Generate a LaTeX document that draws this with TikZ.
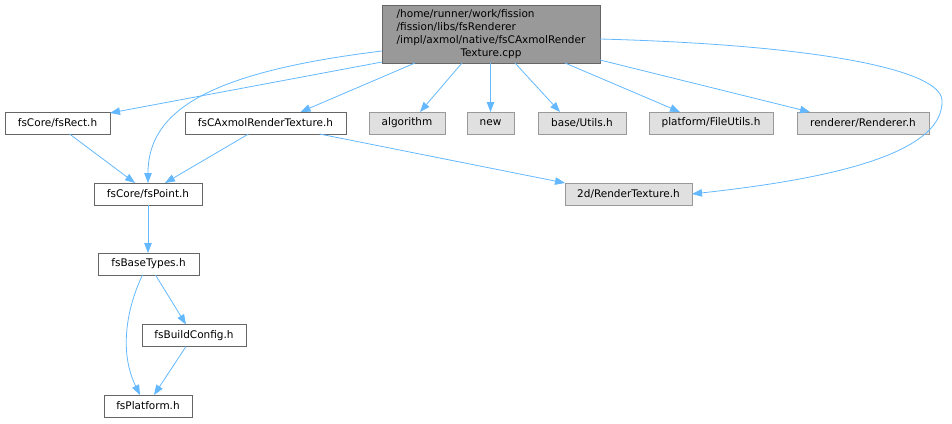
\documentclass[tikz,border=0pt]{standalone}
\usepackage{fontspec}
\setmainfont{DejaVu Sans}
\usetikzlibrary{arrows.meta,calc}
\definecolor{edgec}{HTML}{63B8FF}
\definecolor{mainfill}{HTML}{999999}
\definecolor{mainborder}{HTML}{666666}
\definecolor{extfill}{HTML}{E0E0E0}
\definecolor{extborder}{HTML}{999999}
\begin{document}
\begin{tikzpicture}[x=1pt,y=-1pt,
  every node/.style={font=\fontsize{10.5}{13}\selectfont, inner sep=0pt, outer sep=0pt, text=black},
  wbox/.style={draw=mainborder, fill=white, line width=0.9pt, minimum height=22pt},
  gbox/.style={draw=extborder, fill=extfill, line width=0.9pt, minimum height=22pt},
  mbox/.style={draw=mainborder, fill=mainfill, line width=0.9pt},
  edge/.style={draw=edgec, line width=0.8pt, -{Triangle[length=10pt,width=7.5pt]}}]
\useasboundingbox (0,0) rectangle (952,423);
\node[mbox, minimum width=218pt, minimum height=58pt] (main) at (491,34)
  {\begin{tabular}{@{}l@{}}/home/runner/work/fission\\/fission/libs/fsRenderer\\/impl/axmol/native/fsCAxmolRender\\\multicolumn{1}{@{}c@{}}{Texture.cpp}\end{tabular}};
\node[wbox, minimum width=105pt] (rect) at (57.5,123) {fsCore/fsRect.h};
\node[wbox, minimum width=161pt] (cax) at (265.5,123) {fsCAxmolRenderTexture.h};
\node[gbox, minimum width=76pt] (alg) at (407,123) {algorithm};
\node[gbox, minimum width=47pt] (new) at (490.5,123) {new};
\node[gbox, minimum width=88pt] (utils) at (582,123) {base/Utils.h};
\node[gbox, minimum width=124pt] (futils) at (711,123) {platform/FileUtils.h};
\node[gbox, minimum width=132pt] (rend) at (863,123) {renderer/Renderer.h};
\node[gbox, minimum width=127pt] (rt) at (628.5,194) {2d/RenderTexture.h};
\node[wbox, minimum width=108pt] (point) at (148,194) {fsCore/fsPoint.h};
\node[wbox, minimum width=101pt] (base) at (148.5,264) {fsBaseTypes.h};
\node[wbox, minimum width=104pt] (build) at (194,335.5) {fsBuildConfig.h};
\node[wbox, minimum width=88pt] (plat) at (148,406) {fsPlatform.h};

\draw[edge] ($(main.west)+(0,28)$) -- ($(rect.north east)+(0,1)$);
\draw[edge] ($(main.west)+(0,17)$) .. controls (210,72) and (148,110) .. (point.north);
\draw[edge] ($(main.south west)+(33,0)$) -- ($(cax.north)+(35,0)$);
\draw[edge] ($(main.south)+(-29,0)$) -- ($(alg.north)+(13,0)$);
\draw[edge] (main.south -| new.north) -- (new.north);
\draw[edge] ($(main.south)+(24,0)$) -- ($(utils.north)+(-22,0)$);
\draw[edge] ($(main.south)+(74,0)$) -- ($(futils.north)+(-31,0)$);
\draw[edge] ($(main.south east)+(0,-3)$) -- ($(rend.north)+(-53,0)$);
\draw[edge] ($(main.east)+(0,5)$) .. controls (820,45) and (940,70) .. (942,100)
  .. controls (945,160) and (800,182) .. (rt.east);
\draw[edge] ($(rect.south)+(12,0)$) -- ($(point.north)+(-13,0)$);
\draw[edge] ($(cax.south)+(-17,0)$) -- ($(point.north)+(17,0)$);
\draw[edge] ($(cax.south)+(54,0)$) -- ($(rt.north west)+(0,0)$);
\draw[edge] (point.south) -- (base.north -| point.south);
\draw[edge] ($(base.south)+(7,0)$) -- ($(build.north)+(-8,0)$);
\draw[edge] ($(base.south)+(-6,0)$) .. controls (128,305) and (118,350) .. ($(plat.north)+(-8,0)$);
\draw[edge] ($(build.south)+(-8,0)$) -- ($(plat.north)+(6,0)$);
\end{tikzpicture}
\end{document}
